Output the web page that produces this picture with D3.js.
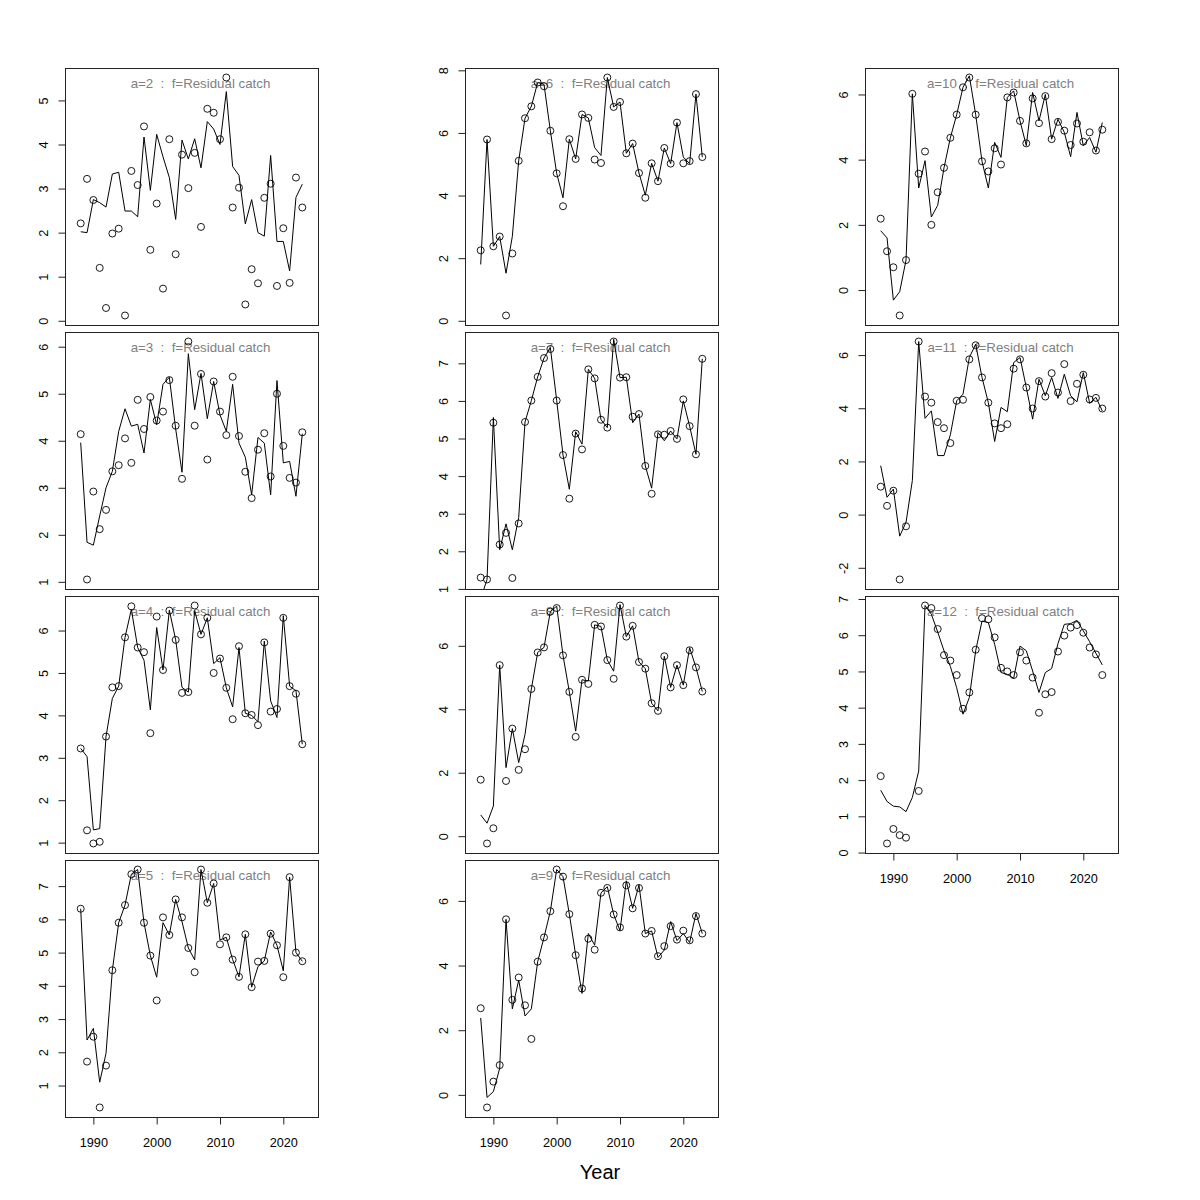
<!DOCTYPE html>
<html><head><meta charset="utf-8">
<script src="https://cdn.jsdelivr.net/npm/d3@7"></script>
<style>
body{margin:0;background:#fff}
text{font-family:"Liberation Sans", Arial, Helvetica, sans-serif}
</style>
</head><body>
<svg id="c" width="1200" height="1200"></svg>
<script>
// ---- data ----
const years = [1988,1989,1990,1991,1992,1993,1994,1995,1996,1997,1998,1999,2000,2001,2002,2003,2004,2005,
               2006,2007,2008,2009,2010,2011,2012,2013,2014,2015,2016,2017,2018,2019,2020,2021,2022,2023];
const ages = [2,3,4,5,6,7,8,9,10,11,12];
const fleetLabel = "Residual catch";
const xTicks = [1990,2000,2010,2020];

const obsA2 = [2.21,3.22,2.74,1.20,0.29,1.98,2.09,0.12,3.40,3.08,4.41,1.61,2.66,0.73,4.12,1.51,3.77,3.01,3.81,2.13,4.81,4.72,4.12,5.52,2.57,3.02,0.37,1.17,0.85,2.79,3.11,0.79,2.10,0.86,3.25,2.57];
const fitA2 = [2.02,2.00,2.75,2.68,2.58,3.33,3.37,2.49,2.49,2.36,4.17,2.96,4.23,3.72,3.25,2.30,4.10,3.67,4.13,3.47,4.52,4.35,4.00,5.20,3.50,3.30,2.20,2.75,2.00,1.92,3.75,1.80,1.80,1.13,2.80,3.10];
const obsA3 = [4.14,1.05,2.92,2.12,2.53,3.35,3.48,4.05,3.53,4.87,4.25,4.93,4.43,4.62,5.29,4.32,3.19,6.11,4.32,5.42,3.60,5.26,4.62,4.12,5.36,4.10,3.34,2.78,3.81,4.16,3.24,5.00,3.89,3.21,3.11,4.18];
const fitA3 = [3.96,1.84,1.78,2.40,3.00,3.35,4.20,4.68,4.31,4.35,3.74,4.88,4.34,5.20,5.35,4.25,3.33,5.85,4.66,5.43,4.47,5.26,4.55,4.20,5.20,3.95,3.65,2.85,4.07,3.95,2.85,5.28,3.53,3.56,2.82,4.15];
const obsA4 = [3.22,1.29,0.98,1.02,3.50,4.66,4.69,5.84,6.57,5.60,5.49,3.58,6.33,5.07,6.47,5.78,4.53,4.55,6.59,5.91,6.30,5.00,5.34,4.65,3.91,5.63,4.05,4.01,3.77,5.72,4.09,4.15,6.30,4.69,4.51,3.32];
const fitA4 = [3.22,3.03,1.30,1.33,3.50,4.40,4.69,5.84,6.50,5.60,5.30,4.13,6.07,5.07,6.48,5.78,4.66,4.55,6.47,5.91,6.30,5.22,5.36,4.65,4.20,5.60,4.05,4.00,3.85,5.75,4.34,3.95,6.35,4.69,4.58,3.32];
const obsA5 = [6.32,1.72,2.47,0.34,1.60,4.47,5.90,6.43,7.36,7.50,5.90,4.91,3.56,6.06,5.53,6.60,6.06,5.14,4.41,7.50,6.50,7.08,5.25,5.46,4.79,4.27,5.55,3.96,4.73,4.75,5.57,5.22,4.26,7.27,5.00,4.74];
const fitA5 = [6.32,2.37,2.72,1.10,1.97,4.47,5.90,6.43,7.36,7.50,5.90,4.91,4.26,5.90,5.53,6.60,5.93,5.14,4.78,7.50,6.50,7.08,5.38,5.46,4.79,4.27,5.55,3.96,4.58,4.75,5.62,5.22,4.45,7.27,5.00,4.74];
const obsA6 = [2.25,5.79,2.38,2.69,0.17,2.15,5.11,6.47,6.85,7.61,7.49,6.07,4.71,3.66,5.80,5.17,6.59,6.48,5.15,5.04,7.77,6.83,6.99,5.35,5.66,4.72,3.93,5.03,4.46,5.52,5.02,6.33,5.03,5.10,7.24,5.23];
const fitA6 = [1.80,5.79,2.38,2.69,1.52,2.70,5.11,6.47,6.85,7.61,7.55,6.07,4.71,3.93,5.80,5.17,6.59,6.48,5.53,5.28,7.77,6.83,6.99,5.35,5.66,4.72,4.01,5.03,4.46,5.52,5.02,6.33,5.23,5.02,7.24,5.23];
const obsA7 = [1.30,1.25,5.42,2.18,2.49,1.29,2.74,5.44,6.01,6.64,7.14,7.38,6.01,4.56,3.40,5.13,4.71,6.84,6.60,5.50,5.29,7.58,6.62,6.63,5.58,5.65,4.27,3.53,5.11,5.10,5.20,4.99,6.04,5.33,4.58,7.12];
const fitA7 = [0.74,1.25,5.56,2.04,2.73,2.04,2.90,5.44,6.01,6.64,7.14,7.42,6.01,4.56,3.65,5.18,4.85,6.84,6.60,5.50,5.29,7.64,6.62,6.63,5.42,5.65,4.27,3.68,5.16,4.94,5.20,4.99,6.00,5.33,4.58,7.12];
const obsA8 = [1.78,-0.23,0.25,5.39,1.74,3.39,2.09,2.74,4.64,5.79,5.95,7.08,7.19,5.70,4.55,3.13,4.93,4.80,6.66,6.61,5.55,4.96,7.27,6.29,6.63,5.49,5.28,4.19,3.95,5.67,4.69,5.39,4.76,5.86,5.32,4.56];
const fitA8 = [0.67,0.41,0.95,5.39,2.16,3.39,2.32,3.21,4.64,5.79,5.95,7.08,7.25,5.70,4.55,3.31,4.93,4.89,6.66,6.61,5.55,5.20,7.30,6.29,6.63,5.49,5.28,4.19,3.95,5.67,4.69,5.39,4.76,5.94,5.32,4.56];
const obsA9 = [2.68,-0.39,0.41,0.92,5.43,2.94,3.63,2.77,1.73,4.12,4.87,5.68,6.97,6.75,5.59,4.32,3.29,4.83,4.49,6.25,6.40,5.58,5.18,6.48,5.77,6.40,4.99,5.07,4.29,4.60,5.22,4.80,5.08,4.78,5.53,4.99];
const fitA9 = [2.38,-0.08,0.10,0.82,5.43,2.66,3.55,2.44,2.66,4.12,4.87,5.68,6.97,6.75,5.59,4.32,3.14,4.99,4.63,6.25,6.44,5.58,5.08,6.62,5.77,6.49,4.99,5.07,4.25,4.48,5.36,4.77,4.99,4.71,5.61,4.99];
const obsA10 = [2.19,1.19,0.70,-0.78,0.92,6.02,3.57,4.25,2.00,3.00,3.75,4.67,5.38,6.22,6.52,5.38,3.95,3.64,4.35,3.85,5.91,6.06,5.19,4.50,5.88,5.12,5.95,4.63,5.16,4.89,4.45,5.11,4.55,4.84,4.28,4.92];
const fitA10 = [1.82,1.60,-0.31,-0.05,0.92,6.02,3.13,3.97,2.24,2.60,3.75,4.67,5.38,6.22,6.57,5.38,3.95,3.13,4.53,4.07,5.91,6.11,5.19,4.43,6.06,5.19,6.00,4.63,5.24,4.84,4.09,5.45,4.43,4.68,4.23,5.14];
const obsA11 = [1.05,0.33,0.90,-2.44,-0.44,null,6.51,4.44,4.21,3.48,3.25,2.69,4.28,4.32,5.84,6.37,5.16,4.21,3.43,3.25,3.40,5.49,5.84,4.78,3.99,5.02,4.44,5.32,4.59,5.66,4.27,4.92,5.26,4.33,4.39,3.99];
const fitA11 = [1.84,0.65,0.96,-0.81,-0.29,1.28,6.51,3.62,3.90,2.22,2.22,3.00,4.28,4.53,5.91,6.41,5.16,4.21,2.75,4.03,3.87,5.72,5.91,4.78,3.59,5.09,4.47,5.16,4.37,5.28,4.47,4.24,5.34,4.19,4.41,3.90];
const obsA12 = [2.11,0.25,0.65,0.48,0.41,null,1.70,6.82,6.75,6.17,5.45,5.30,4.90,3.97,4.42,5.60,6.47,6.44,5.94,5.10,5.00,4.90,5.53,5.30,4.83,3.86,4.37,4.43,5.55,5.99,6.21,6.28,6.07,5.66,5.47,4.90];
const fitA12 = [1.72,1.41,1.28,1.26,1.13,1.52,2.25,6.82,6.58,6.09,5.57,5.14,4.55,3.82,4.28,5.57,6.39,6.35,5.75,4.97,4.92,4.81,5.70,5.57,5.01,4.42,4.97,5.08,5.77,6.30,6.32,6.41,6.12,5.82,5.50,5.18];

const yTicksA2 = [0,1,2,3,4,5];
const yTicksA3 = [1,2,3,4,5,6];
const yTicksA4 = [1,2,3,4,5,6];
const yTicksA5 = [1,2,3,4,5,6,7];
const yTicksA6 = [0,2,4,6,8];
const yTicksA7 = [1,2,3,4,5,6,7];
const yTicksA8 = [0,2,4,6];
const yTicksA9 = [0,2,4,6];
const yTicksA10 = [0,2,4,6];
const yTicksA11 = [-2,0,2,4,6];
const yTicksA12 = [0,1,2,3,4,5,6,7];

const obsList = [obsA2,obsA3,obsA4,obsA5,obsA6,obsA7,obsA8,obsA9,obsA10,obsA11,obsA12];
const fitList = [fitA2,fitA3,fitA4,fitA5,fitA6,fitA7,fitA8,fitA9,fitA10,fitA11,fitA12];
const tickList = [yTicksA2,yTicksA3,yTicksA4,yTicksA5,yTicksA6,yTicksA7,yTicksA8,yTicksA9,yTicksA10,yTicksA11,yTicksA12];

// ---- layout ----
const svg = d3.select("#c");
const colLeft = [65,465,865], rowTop = [68,332,596,860];
const W = 253, H = 257, tickFont = "12.7px";
const nRows = 4;
const plainNum = d => String(d);

ages.forEach((age, i) => {
  const col = Math.floor(i / nRows), row = i % nRows;
  const x0 = colLeft[col], y0 = rowTop[row];
  const lastInCol = (row === nRows - 1) || (i === ages.length - 1);
  const obs = obsList[i], fit = fitList[i];
  const x = d3.scaleLinear().domain([1985.52, 2025.48]).range([x0, x0 + W]);
  const ext = d3.extent(obs.filter(v => v != null));
  const pad = (ext[1] - ext[0]) * 0.04;
  const y = d3.scaleLinear().domain([ext[0] - pad, ext[1] + pad]).range([y0 + H, y0]);

  const g = svg.append("g");
  const cid = "clip" + i;
  g.append("clipPath").attr("id", cid).append("rect")
    .attr("x", x0).attr("y", y0).attr("width", W).attr("height", H);

  // title
  g.append("text")
    .attr("x", x0 + W / 2 + 9).attr("y", y0 + 20)
    .attr("text-anchor", "middle")
    .style("white-space", "pre")
    .attr("fill", "#808080").style("font-size", "13.3px")
    .text("a=" + age + "  :  f=" + fleetLabel);

  const plotG = g.append("g").attr("clip-path", "url(#" + cid + ")");
  const line = d3.line().x((d, k) => x(years[k])).y(d => y(d));
  plotG.append("path").datum(fit).attr("d", line)
    .attr("fill", "none").attr("stroke", "#000").attr("stroke-width", 1);

  const pts = years.map((yr, k) => ({yr, v: obs[k]})).filter(d => d.v != null);
  plotG.selectAll("circle").data(pts).enter().append("circle")
    .attr("cx", d => x(d.yr)).attr("cy", d => y(d.v)).attr("r", 3.5)
    .attr("fill", "none").attr("stroke", "#000").attr("stroke-width", 0.9);

  // box
  g.append("rect").attr("x", x0 + 0.5).attr("y", y0 + 0.5).attr("width", W).attr("height", H)
    .attr("fill", "none").attr("stroke", "#222").attr("stroke-width", 1);

  // y axis
  const ya = g.append("g").attr("transform", "translate(" + (x0 + 0.5) + ",0)")
    .call(d3.axisLeft(y).tickValues(tickList[i]).tickSize(7).tickSizeOuter(0).tickFormat(plainNum));
  ya.select(".domain").remove();
  ya.selectAll("line").attr("stroke", "#222");
  ya.selectAll("text")
    .attr("transform", "rotate(-90)")
    .attr("x", 0).attr("y", -18).attr("dy", 0)
    .attr("text-anchor", "middle")
    .attr("fill", "#000")
    .style("font-size", tickFont).style("font-family", '"Liberation Sans", Arial, sans-serif');

  if (lastInCol) {
    const xa = g.append("g").attr("transform", "translate(0," + (y0 + H + 0.5) + ")")
      .call(d3.axisBottom(x).tickValues(xTicks).tickSize(7).tickSizeOuter(0).tickFormat(plainNum));
    xa.select(".domain").remove();
    xa.selectAll("line").attr("stroke", "#222");
    xa.selectAll("text").attr("y", 20).attr("fill", "#000")
      .style("font-size", tickFont).style("font-family", '"Liberation Sans", Arial, sans-serif');
  }
});

svg.append("text").attr("x", 600).attr("y", 1179).attr("text-anchor", "middle")
  .style("font-size", "20px").attr("fill", "#000").text("Year");
</script>
</body></html>
